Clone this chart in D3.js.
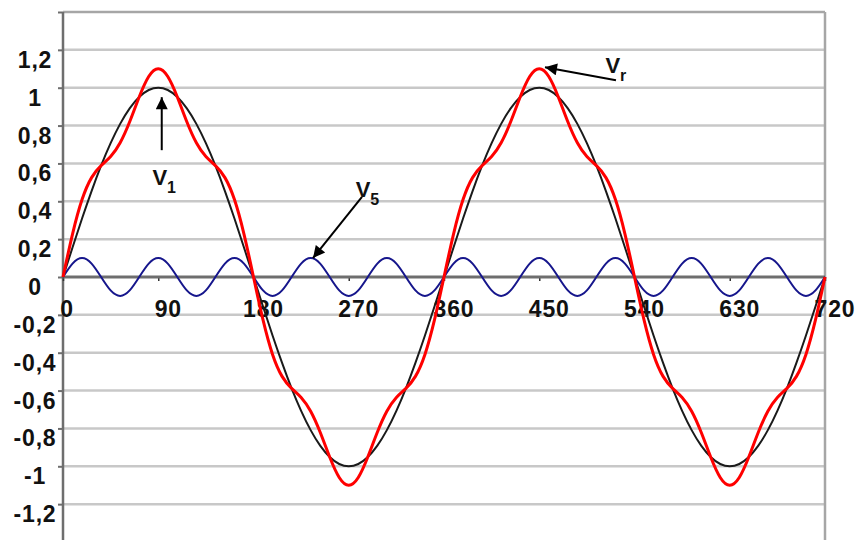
<!DOCTYPE html>
<html>
<head>
<meta charset="utf-8">
<script src="https://cdn.jsdelivr.net/npm/d3@7"></script>
<style>
  html, body { margin: 0; padding: 0; background: #ffffff; }
  svg { display: block; }
  text { font-family: "Liberation Sans", Arial, sans-serif; font-weight: bold; }
</style>
</head>
<body>
<svg id="chart" width="862" height="540"></svg>
<script>
// ---- Data (angle in degrees, read every 9 degrees) ----
const angles = [0,9,18,27,36,45,54,63,72,81,90,99,108,117,126,135,144,153,162,171,
  180,189,198,207,216,225,234,243,252,261,270,279,288,297,306,315,324,333,342,351,
  360,369,378,387,396,405,414,423,432,441,450,459,468,477,486,495,504,513,522,531,
  540,549,558,567,576,585,594,603,612,621,630,639,648,657,666,675,684,693,702,711,720];

const v1 = [0,.156,.309,.454,.588,.707,.809,.891,.951,.988,1,.988,.951,.891,.809,.707,.588,.454,.309,.156,
  0,-.156,-.309,-.454,-.588,-.707,-.809,-.891,-.951,-.988,-1,-.988,-.951,-.891,-.809,-.707,-.588,-.454,-.309,-.156,
  0,.156,.309,.454,.588,.707,.809,.891,.951,.988,1,.988,.951,.891,.809,.707,.588,.454,.309,.156,
  0,-.156,-.309,-.454,-.588,-.707,-.809,-.891,-.951,-.988,-1,-.988,-.951,-.891,-.809,-.707,-.588,-.454,-.309,-.156,0];

const v5 = [0,.071,.1,.071,0,-.071,-.1,-.071, 0,.071,.1,.071,0,-.071,-.1,-.071,
  0,.071,.1,.071,0,-.071,-.1,-.071, 0,.071,.1,.071,0,-.071,-.1,-.071,
  0,.071,.1,.071,0,-.071,-.1,-.071, 0,.071,.1,.071,0,-.071,-.1,-.071,
  0,.071,.1,.071,0,-.071,-.1,-.071, 0,.071,.1,.071,0,-.071,-.1,-.071,
  0,.071,.1,.071,0,-.071,-.1,-.071, 0,.071,.1,.071,0,-.071,-.1,-.071, 0];

const vr = [0,.227,.409,.525,.588,.636,.709,.820,.951,1.059,1.1,1.059,.951,.820,.709,.636,.588,.525,.409,.227,
  0,-.227,-.409,-.525,-.588,-.636,-.709,-.820,-.951,-1.059,-1.1,-1.059,-.951,-.820,-.709,-.636,-.588,-.525,-.409,-.227,
  0,.227,.409,.525,.588,.636,.709,.820,.951,1.059,1.1,1.059,.951,.820,.709,.636,.588,.525,.409,.227,
  0,-.227,-.409,-.525,-.588,-.636,-.709,-.820,-.951,-1.059,-1.1,-1.059,-.951,-.820,-.709,-.636,-.588,-.525,-.409,-.227,0];

const xTicks = [0,90,180,270,360,450,540,630,720];
const xTickLabels = ["0","90","180","270","360","450","540","630","720"];
const yTicks = [-1.4,-1.2,-1,-0.8,-0.6,-0.4,-0.2,0,0.2,0.4,0.6,0.8,1,1.2,1.4];
const yTickLabels = ["","-1,2","-1","-0,8","-0,6","-0,4","-0,2","0","0,2","0,4","0,6","0,8","1","1,2",""];

// annotations: label, subscript, arrow start (deg, value), arrow tip (deg, value), text anchor point (deg, value)
const annotations = [
  {main: "V", sub: "1", from: [93.3, 0.67], to: [93.3, 0.95], text: [84.5, 0.485]},
  {main: "V", sub: "r", from: [522.5, 1.04], to: [455.4, 1.108], text: [512.5, 1.078]},
  {main: "V", sub: "5", from: [282.5, 0.423], to: [236.2, 0.1], text: [276.5, 0.423]}
];

// ---- Chart ----
const svg = d3.select("#chart");
const x = d3.scaleLinear().domain([0, 720]).range([63, 825]);
const y = d3.scaleLinear().domain([-1.4, 1.4]).range([542, 12]);

// gridlines
svg.append("g").selectAll("line")
  .data(yTicks.filter(d => d !== 0))
  .join("line")
  .attr("x1", x(0)).attr("x2", x(720))
  .attr("y1", d => y(d)).attr("y2", d => y(d))
  .attr("stroke", d => d === 1.4 ? "#a6a6a6" : "#c8c8c8")
  .attr("stroke-width", 2.5);

// right border
svg.append("line")
  .attr("x1", x(720)).attr("x2", x(720))
  .attr("y1", y(1.4)).attr("y2", y(-1.4))
  .attr("stroke", "#a6a6a6").attr("stroke-width", 2.5);

// y axis
const yAxis = d3.axisLeft(y).tickValues(yTicks).tickSize(5).tickFormat("");
const gy = svg.append("g").attr("transform", `translate(${x(0)},0)`).call(yAxis);
gy.select(".domain").remove();
gy.selectAll(".tick line").attr("stroke", "#6e6e6e").attr("stroke-width", 2);
svg.append("line")
  .attr("x1", x(0)).attr("x2", x(0))
  .attr("y1", y(1.4)).attr("y2", y(-1.4))
  .attr("stroke", "#6e6e6e").attr("stroke-width", 2.5);

svg.append("g").selectAll("text")
  .data(yTicks.map((d, i) => ({v: d, t: yTickLabels[i]})).filter(d => d.t !== ""))
  .join("text")
  .attr("x", 35)
  .attr("y", d => y(d.v) + 18)
  .attr("text-anchor", "middle")
  .attr("font-size", 23)
  .attr("letter-spacing", 0.8)
  .attr("fill", "#111")
  .text(d => d.t);

// zero line (x axis)
const xAxis = d3.axisBottom(x).tickValues(xTicks).tickSize(4).tickFormat("");
const gx = svg.append("g").attr("transform", `translate(0,${y(0)})`).call(xAxis);
gx.select(".domain").remove();
gx.selectAll(".tick line").attr("stroke", "#333").attr("stroke-width", 1.5);
svg.append("line")
  .attr("x1", x(0)).attr("x2", x(720))
  .attr("y1", y(0)).attr("y2", y(0))
  .attr("stroke", "#6e6e6e").attr("stroke-width", 3);

svg.append("g").selectAll("text")
  .data(xTicks.map((d, i) => ({v: d, t: xTickLabels[i]})))
  .join("text")
  .attr("x", d => x(d.v) + (d.v === 0 ? 4 : 10))
  .attr("y", y(0) + 40)
  .attr("text-anchor", "middle")
  .attr("font-size", 23)
  .attr("letter-spacing", 0.8)
  .attr("fill", "#111")
  .text(d => d.t);

// series
const series = [
  {name: "V1", values: v1, color: "#1a1a1a", width: 2},
  {name: "V5", values: v5, color: "#16168c", width: 2},
  {name: "Vr", values: vr, color: "#ff0000", width: 3}
];
const line = d3.line().x(d => x(d[0])).y(d => y(d[1])).curve(d3.curveNatural);
svg.append("g").selectAll("path")
  .data(series)
  .join("path")
  .attr("d", s => line(angles.map((a, i) => [a, s.values[i]])))
  .attr("fill", "none")
  .attr("stroke", s => s.color)
  .attr("stroke-width", s => s.width)
  .attr("stroke-linejoin", "round");

// annotations
svg.append("defs").append("marker")
  .attr("id", "arrow")
  .attr("viewBox", "0 0 10 10")
  .attr("refX", 10).attr("refY", 5)
  .attr("markerWidth", 7).attr("markerHeight", 6)
  .attr("markerUnits", "strokeWidth")
  .attr("orient", "auto")
  .append("path").attr("d", "M0,0 L10,5 L0,10 Z").attr("fill", "#000");

const ag = svg.append("g");
annotations.forEach(a => {
  ag.append("line")
    .attr("x1", x(a.from[0])).attr("y1", y(a.from[1]))
    .attr("x2", x(a.to[0])).attr("y2", y(a.to[1]))
    .attr("stroke", "#000").attr("stroke-width", 2)
    .attr("marker-end", "url(#arrow)");
  const t = ag.append("text")
    .attr("x", x(a.text[0])).attr("y", y(a.text[1]))
    .attr("font-size", 22).attr("fill", "#111");
  t.append("tspan").text(a.main);
  t.append("tspan").attr("dy", 8).attr("font-size", 16).text(a.sub);
});
</script>
</body>
</html>
